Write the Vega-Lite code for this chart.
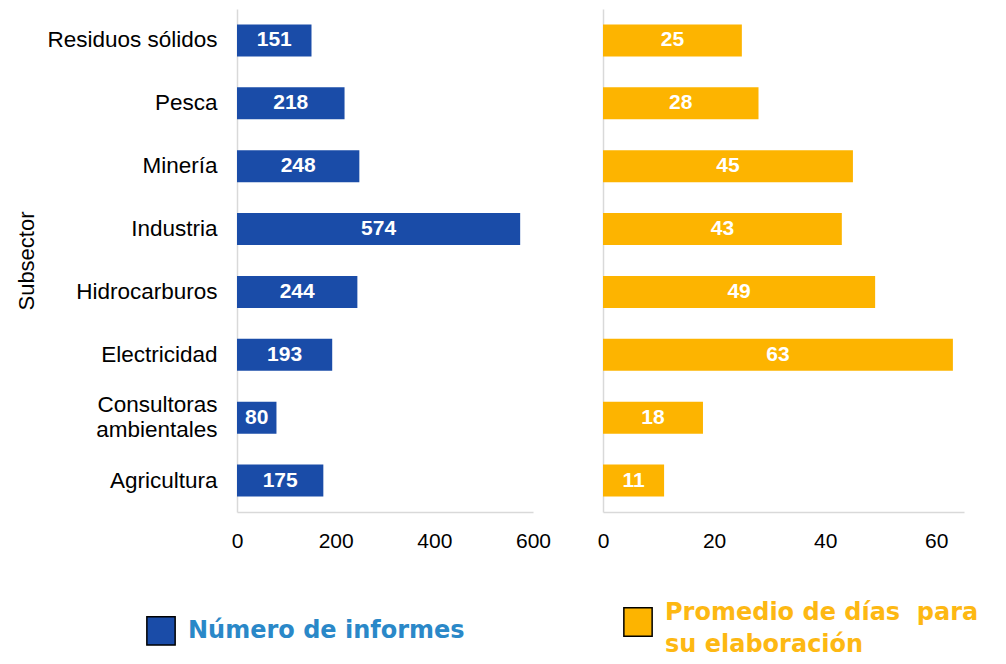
{
  "$schema": "https://vega.github.io/schema/vega-lite/v6.json",
  "background": "white",
  "padding": {"left": 15, "top": 9, "right": 5, "bottom": 5},
  "data": {"values": [
    {"subsector": "Residuos sólidos", "informes": 151, "dias": 25},
    {"subsector": "Pesca", "informes": 218, "dias": 28},
    {"subsector": "Minería", "informes": 248, "dias": 45},
    {"subsector": "Industria", "informes": 574, "dias": 43},
    {"subsector": "Hidrocarburos", "informes": 244, "dias": 49},
    {"subsector": "Electricidad", "informes": 193, "dias": 63},
    {"subsector": "Consultoras ambientales", "informes": 80, "dias": 18},
    {"subsector": "Agricultura", "informes": 175, "dias": 11}
  ]},
  "config": {
    "view": {"stroke": null},
    "font": "Liberation Sans",
    "axis": {
      "labelFont": "Liberation Sans",
      "labelColor": "black",
      "titleFont": "Liberation Sans",
      "titleColor": "black",
      "domainColor": "#d9d9d9",
      "domainWidth": 1.5,
      "ticks": false,
      "grid": false,
      "labelFlush": false
    }
  },
  "spacing": 46,
  "hconcat": [
    {
      "width": 296,
      "height": 503,
      "layer": [
        {
          "mark": {"type": "bar"},
          "encoding": {
            "y": {
              "field": "subsector", "type": "nominal",
              "sort": ["Residuos sólidos", "Pesca", "Minería", "Industria", "Hidrocarburos", "Electricidad", "Consultoras ambientales", "Agricultura"],
              "scale": {"paddingInner": 0.49, "paddingOuter": 0.245},
              "axis": {
                "title": "Subsector", "titleFontSize": 22, "titleFontWeight": "normal", "titlePadding": 8,
                "labelFontSize": 22.5, "labelPadding": 20, "labelLineHeight": 25, "labelLimit": 300,
                "labelExpr": "datum.value == 'Consultoras ambientales' ? ['Consultoras', 'ambientales'] : datum.value",
                "labelOffset": {"condition": {"test": "datum.value == 'Consultoras ambientales'", "value": -12.5}, "value": 0}
              }
            },
            "x": {
              "field": "informes", "type": "quantitative",
              "scale": {"domain": [0, 600], "nice": false},
              "axis": {"title": null, "values": [0, 200, 400, 600], "labelFontSize": 21, "labelPadding": 18}
            },
            "color": {
              "datum": "Número de informes", "type": "nominal",
              "scale": {"domain": ["Número de informes", "Promedio de días  para su elaboración"], "range": ["#1a4ca8", "#fdb400"]},
              "legend": {
                "title": null,
                "orient": "none",
                "legendX": -91,
                "legendY": 598,
                "direction": "horizontal",
                "symbolType": "square",
                "symbolSize": 800,
                "symbolStrokeColor": "black",
                "symbolStrokeWidth": 1.5,
                "labelFont": "DejaVu Sans",
                "labelFontWeight": "bold",
                "labelFontSize": 24,
                "labelOffset": 12,
                "labelLimit": 500,
                "labelLineHeight": 32,
                "columnPadding": 155,
                "labelExpr": "datum.value == 'Número de informes' ? datum.label : ['Promedio de días\u00a0 para', 'su elaboración']",
                "encode": {
                  "symbols": {"update": {"fill": {"signal": "datum.value == 'Número de informes' ? '#1f80c4' : '#fdb400'"}, "stroke": {"value": "black"}}},
                  "labels": {"update": {
                    "fill": {"signal": "datum.value == 'Número de informes' ? '#2a88c8' : '#fdb813'"},
                    "lineHeight": {"value": 32},
                    "dy": {"signal": "datum.value == 'Número de informes' ? 0 : -9"}
                  }}
                }
              }
            }
          }
        },
        {
          "mark": {"type": "text", "color": "white", "fontWeight": "bold", "fontSize": 21, "font": "Liberation Sans"},
          "encoding": {
            "y": {"field": "subsector", "type": "nominal", "sort": ["Residuos sólidos", "Pesca", "Minería", "Industria", "Hidrocarburos", "Electricidad", "Consultoras ambientales", "Agricultura"]},
            "x": {"field": "informes", "type": "quantitative", "scale": {"domain": [0, 1200], "nice": false}, "axis": null},
            "text": {"field": "informes", "type": "quantitative"}
          }
        }
      ],
      "resolve": {"scale": {"x": "independent"}}
    },
    {
      "width": 361,
      "height": 503,
      "layer": [
        {
          "mark": {"type": "bar"},
          "encoding": {
            "y": {
              "field": "subsector", "type": "nominal",
              "sort": ["Residuos sólidos", "Pesca", "Minería", "Industria", "Hidrocarburos", "Electricidad", "Consultoras ambientales", "Agricultura"],
              "scale": {"paddingInner": 0.49, "paddingOuter": 0.245},
              "axis": {"title": null, "labels": false}
            },
            "x": {
              "field": "dias", "type": "quantitative",
              "scale": {"domain": [0, 65], "nice": false},
              "axis": {"title": null, "values": [0, 20, 40, 60], "labelFontSize": 21, "labelPadding": 18}
            },
            "color": {"datum": "Promedio de días  para su elaboración", "type": "nominal"}
          }
        },
        {
          "mark": {"type": "text", "color": "white", "fontWeight": "bold", "fontSize": 21, "font": "Liberation Sans"},
          "encoding": {
            "y": {"field": "subsector", "type": "nominal", "sort": ["Residuos sólidos", "Pesca", "Minería", "Industria", "Hidrocarburos", "Electricidad", "Consultoras ambientales", "Agricultura"]},
            "x": {"field": "dias", "type": "quantitative", "scale": {"domain": [0, 130], "nice": false}, "axis": null},
            "text": {"field": "dias", "type": "quantitative"}
          }
        }
      ],
      "resolve": {"scale": {"x": "independent"}}
    }
  ]
}
